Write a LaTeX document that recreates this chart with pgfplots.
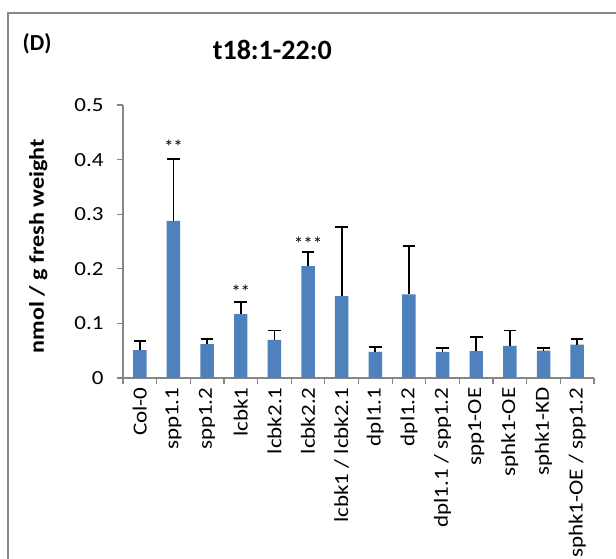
\documentclass[border=0pt]{standalone}
\usepackage{fontspec}
\setmainfont{Carlito}
\newfontfamily\wide[FakeStretch=1.15]{Carlito}
\usepackage{pgfplots}
\pgfplotsset{compat=1.18}
\usepackage{pgfplotstable}
\definecolor{barblue}{HTML}{4F81BD}
\definecolor{axgray}{HTML}{868686}
\definecolor{framegray}{HTML}{878787}
\pgfplotstableread{
x y err
0 0.051 0.017
1 0.288 0.113
2 0.062 0.009
3 0.117 0.022
4 0.070 0.017
5 0.205 0.026
6 0.150 0.126
7 0.048 0.009
8 0.153 0.089
9 0.048 0.007
10 0.049 0.026
11 0.059 0.028
12 0.050 0.005
13 0.061 0.011
}\datatable
\begin{document}
\begin{tikzpicture}
\useasboundingbox (0,0) rectangle (616pt,559pt);
\draw[framegray, line width=2pt] (8pt,0) -- (8pt,546pt) -- (616pt,546pt);
\begin{axis}[
  at={(123pt,181pt)}, anchor=south west,
  scale only axis, width=471pt, height=273pt,
  xmin=-0.5, xmax=13.5, ymin=0, ymax=0.5,
  axis x line=bottom, axis y line=left,
  axis line style={-, axgray, line width=1.2pt},
  tick align=outside, major tick length=6pt,
  tick style={axgray, line width=1.2pt},
  ytick={0,0.1,0.2,0.3,0.4,0.5},
  /pgf/number format/assume math mode=true,
  /pgf/number format/fixed, /pgf/number format/precision=1,
  yticklabel style={font=\wide\fontsize{20}{24}\selectfont, xshift=-10pt},
  xtick={-0.5,0.5,...,13.5},
  x tick label as interval,
  xticklabels={Col-0,spp1.1,spp1.2,lcbk1,lcbk2.1,lcbk2.2,lcbk1 / lcbk2.1,dpl1.1,dpl1.2,dpl1.1 / spp1.2,spp1-OE,sphk1-OE,sphk1-KD,sphk1-OE / spp1.2},
  xticklabel style={rotate=90, anchor=east, font=\wide\fontsize{20}{24}\selectfont},
  title={t18:1-22:0},
  title style={at={(0.317,1.179)}, anchor=center, font=\bfseries\fontsize{28}{32}\selectfont},
  ylabel={nmol / g fresh weight},
  ylabel style={at={(-0.180,0.483)}, anchor=center, rotate=0, font=\wide\bfseries\fontsize{21}{24}\selectfont},
  clip=false,
]
\addplot[ybar, bar width=0.4, fill=barblue, draw=none,
  error bars/.cd, y dir=plus, y explicit,
  error bar style={black, line width=1.7pt},
  error mark options={rotate=90, mark size=6.3pt, line width=1.7pt, black}]
  table[x=x, y=y, y error=err] {\datatable};
\node[font=\fontsize{19}{22}\selectfont] at (axis cs:1,0.424) {**};
\node[font=\fontsize{19}{22}\selectfont] at (axis cs:3,0.158) {**};
\node[font=\fontsize{19}{22}\selectfont] at (axis cs:5,0.246) {***};
\end{axis}
\node[font=\bfseries\fontsize{23}{26}\selectfont] at (37pt,515.5pt) {(D)};
\end{tikzpicture}
\end{document}
